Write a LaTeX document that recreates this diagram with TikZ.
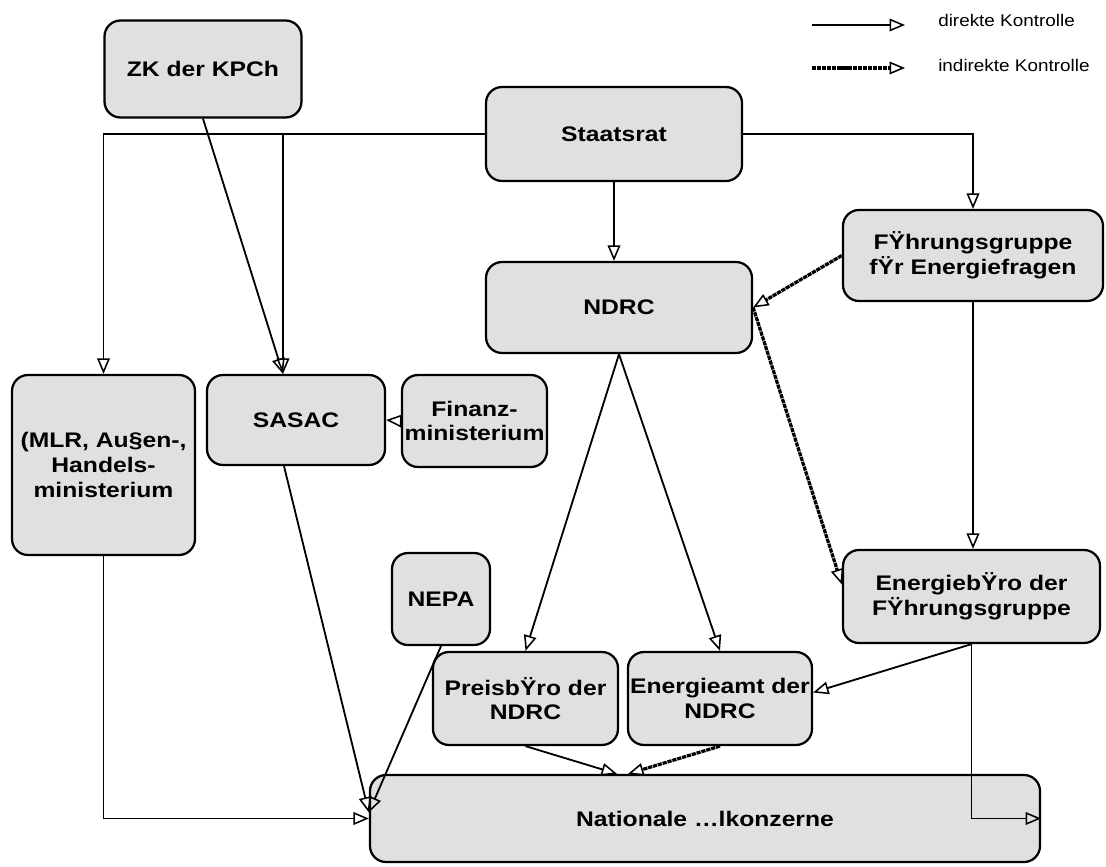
\documentclass[tikz,border=0pt]{standalone}
\usepackage{fontspec}
\setmainfont{Liberation Sans}
\newfontfamily\kastenfont{Liberation Sans Bold}[FakeStretch=1.17]
\newfontfamily\legendenfont{Liberation Sans}[FakeStretch=1.12]
\usepackage{tikz}
\usetikzlibrary{arrows.meta}
\tikzset{
  Kasten/.style 2 args={draw, line width=1.6pt, fill=black!12,
    rounded corners=0.4cm, minimum width=#1*0.025cm, minimum height=#2*0.025cm,
    inner sep=0pt, align=center, font=\kastenfont\fontsize{15}{17.5}\selectfont}, % für Kästen
  Pfeil/.style={-{Triangle[open, length=11pt, width=9pt, line width=1.1pt]}},
  DPfeil/.style={Pfeil, line width=1.3pt}, % direkte Kontrolle
  IPfeil/.style={Pfeil, line width=2.3pt, dash pattern=on 3pt off 0.6pt}, % indirekte Kontrolle
  Legende/.style={anchor=west, inner sep=0pt, font=\legendenfont\fontsize{12}{14}\selectfont}
}

\begin{document}
\begin{tikzpicture}[x=0.025cm, y=-0.025cm]
\useasboundingbox (0,0) rectangle (1106,867);

%Kästen
\node[Kasten={197}{97}]  (zk)        at (203,69)      {ZK der KPCh};
\node[Kasten={256}{94}]  (staatsrat) at (614,134)     {Staatsrat};
\node[Kasten={260}{91}]  (fuehrung)  at (973,255.5)   {FŸhrungsgruppe\\fŸr Energiefragen};
\node[Kasten={266}{91}]  (ndrc)      at (619,307.5)   {NDRC};
\node[Kasten={183}{180}] (mlr)       at (103.5,465)   {(MLR, Au§en-,\\Handels-\\ministerium};
\node[Kasten={178}{90}]  (sasac)     at (296,420)     {SASAC};
\node[Kasten={145}{92}]  (finanz)    at (474.5,421)   {Finanz-\\ministerium};
\node[Kasten={98}{92}]   (nepa)      at (441,599)     {NEPA};
\node[Kasten={257}{93}]  (ebuero)    at (971.5,596.5) {EnergiebŸro der\\FŸhrungsgruppe};
\node[Kasten={185}{93}]  (preis)     at (525.5,698.5) {PreisbŸro der\\NDRC};
\node[Kasten={184}{93}]  (eamt)      at (720,698.5)   {Energieamt der\\NDRC};
\node[Kasten={670}{87}]  (nat)       at (705,818.5)   {Nationale …lkonzerne};

%Hilfspunkte
\coordinate (sasacin)  at ([shift={(-13,0)}]sasac.north);
\coordinate (sasacout) at ([shift={(-12,0)}]sasac.south);
\coordinate (natlinks) at ([shift={(0,-6)}]nat.west);

%Verbindungen
\draw[DPfeil] (staatsrat.west) -| (mlr.north);
\draw[DPfeil] (staatsrat.west) -| (sasacin);
\draw[DPfeil] (zk.south) -- (sasacin);
\draw[DPfeil] (staatsrat.east) -| (fuehrung.north);
\draw[DPfeil] (staatsrat.south) -- (staatsrat.south |- ndrc.north);
\draw[IPfeil] (fuehrung.west) -- (ndrc.east);
\draw[IPfeil] (ndrc.east) -- ([shift={(0,-12)}]ebuero.west);
\draw[DPfeil] (fuehrung.south) -- (fuehrung.south |- ebuero.north);
\draw[IPfeil] (finanz.west) -- (sasac.east);
\draw[DPfeil] (ndrc.south) -- (preis.north);
\draw[DPfeil] (ndrc.south) -- (eamt.north);
\draw[DPfeil] (ebuero.south) -- ([shift={(0,-6)}]eamt.east);
\draw[DPfeil] (ebuero.south) |- (nat.east);
\draw[DPfeil] (mlr.south) |- (nat.west);
\draw[DPfeil] (sasacout) -- (natlinks);
\draw[DPfeil] (nepa.south) -- (natlinks);
\draw[DPfeil] (preis.south) -- ([shift={(-88,0)}]nat.north);
\draw[IPfeil] (eamt.south) -- ([shift={(-77,0)}]nat.north);

%Legende
\coordinate (d1) at (812,25);
\coordinate (d2) at (905,25);
\coordinate (i1) at (812,68);
\coordinate (i2) at (905,68);
\draw[DPfeil] (d1) -- (d2);
\draw[IPfeil] (i1) -- (i2);
\node[Legende] (dtext) at (938,20) {direkte Kontrolle};
\node[Legende] (itext) at (938,65) {indirekte Kontrolle};

\end{tikzpicture}
\end{document}
